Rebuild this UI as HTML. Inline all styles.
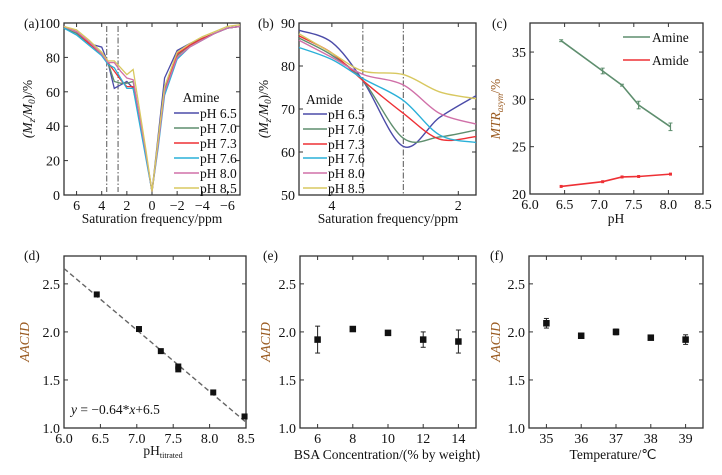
<!DOCTYPE html>
<html><head><meta charset="utf-8">
<style>
html,body{margin:0;padding:0;background:#fff;}
svg{display:block;font-family:"Liberation Serif",serif;}
</style></head>
<body>
<svg id="fig" width="722" height="475" viewBox="0 0 722 475" xmlns="http://www.w3.org/2000/svg"></svg>
<script>
// ---------- data ----------
const aX = [7,6,5,4,3.5,3,2.5,2,1.5,1,0.5,0,-0.5,-1,-2,-3,-4,-5,-6,-7];
const aPH = ["pH 6.5","pH 7.0","pH 7.3","pH 7.6","pH 8.0","pH 8.5"];
const aY65 = [97,94,88,86,77,62,64,66,62,45,25,2,35,68,84,88,91,94,97,98];
const aY70 = [97,94,88,82,77,66,65,65,66,44,24,2,32,62,81,87,91,94,97,98];
const aY73 = [98,95,88,82,77,72,67,63,63,44,24,2,30,60,82,87,91,94,97,98];
const aY76 = [97,93,87,81,76,74,68,62,62,42,22,2,28,58,79,86,90,94,97,98];
const aY80 = [98,95,89,82,77,77,72,68,67,46,25,2,30,60,80,86,90,94,97,98];
const aY85 = [98,96,90,83,78,78,74,70,73,50,27,2,33,63,83,88,92,95,98,99];

const bX = [4.52,4,3.5,2.87,2.3,1.72];
const bPH = ["pH 6.5","pH 7.0","pH 7.3","pH 7.6","pH 8.0","pH 8.5"];
const bY65 = [88.3,85.5,76.4,61.3,68,73.1];
const bY70 = [86.5,82.5,76.5,63.2,63.5,65.1];
const bY73 = [87,83,76.5,69,63,63.6];
const bY76 = [84.3,81.5,77,72,64,62.2];
const bY80 = [86,82,78,75.6,69,66.5];
const bY85 = [87.5,83,78.8,78,74,72.4];

const cPH = [6.45,7.05,7.33,7.57,8.03];
const cAmine = [36.2,33.0,31.5,29.4,27.1];
const cAmineErr = [0.1,0.3,0.1,0.4,0.4];
const cAmide = [20.8,21.3,21.8,21.85,22.1];

const dPH = [6.45,7.03,7.33,7.57,7.57,8.05,8.48];
const dAACID = [2.39,2.03,1.80,1.61,1.64,1.37,1.12];
const dSlope = -0.64, dIntercept = 6.5;

const eConc = [6,8,10,12,14];
const eAACID = [1.92,2.03,1.99,1.92,1.90];
const eErr = [0.14,0.02,0.02,0.08,0.12];

const fTemp = [35,36,37,38,39];
const fAACID = [2.09,1.96,2.00,1.94,1.92];
const fErr = [0.05,0.02,0.03,0.01,0.05];

const aXTicks = [6,4,2,0,-2,-4,-6];
const aXTickLabels = ["6","4","2","0","\u22122","\u22124","\u22126"];
const aYTicks = [0,20,40,60,80,100];
const bXTicks = [4,2];
const bYTicks = [50,60,70,80,90];
const cXTicks = [6.0,6.5,7.0,7.5,8.0,8.5];
const cYTicks = [20,25,30,35];
const dXTicks = [6.0,6.5,7.0,7.5,8.0,8.5];
const acidTicks = [1.0,1.5,2.0,2.5];
const eXTicks = [6,8,10,12,14];
const fXTicks = [35,36,37,38,39];

const colors = ["#4b4ba8","#5e8e6e","#ee3035","#2ab0d8","#d070a8","#d8c860"];
const brown = "#9a5a20";
// ---------- helpers ----------
const NS = "http://www.w3.org/2000/svg";
const svg = document.getElementById("fig");
function mk(tag, attrs, parent){
  const e = document.createElementNS(NS, tag);
  for (const k in attrs) e.setAttribute(k, attrs[k]);
  (parent||svg).appendChild(e);
  return e;
}
function txt(s, x, y, anchor, size, parent, extra){
  const t = mk("text", Object.assign({x:x, y:y, "text-anchor":anchor||"middle", "font-size":size||13, fill:"#111"}, extra||{}), parent);
  t.textContent = s;
  return t;
}
function scale(d0,d1,r0,r1){ return v => r0 + (v-d0)*(r1-r0)/(d1-d0); }
function smoothPath(pts){
  let d = "M"+pts[0][0]+","+pts[0][1];
  for (let i=0;i<pts.length-1;i++){
    const p0=pts[Math.max(0,i-1)], p1=pts[i], p2=pts[i+1], p3=pts[Math.min(pts.length-1,i+2)];
    const c1=[p1[0]+(p2[0]-p0[0])/6, p1[1]+(p2[1]-p0[1])/6];
    const c2=[p2[0]-(p3[0]-p1[0])/6, p2[1]-(p3[1]-p1[1])/6];
    d += " C"+c1[0]+","+c1[1]+" "+c2[0]+","+c2[1]+" "+p2[0]+","+p2[1];
  }
  return d;
}
function panel(name, L, T, R, B, xs, ys, xt, xtl, yt, ytl){
  const g = mk("g", {});
  
  
  const box = mk("rect", {x:L, y:T, width:R-L, height:B-T, fill:"none", stroke:"#333", "stroke-width":1.3}, g);
  
  
  const xa = mk("g", {}, g);
  
  
  xt.forEach((v,i)=>{
    const x = xs(v);
    mk("line",{x1:x,x2:x,y1:B,y2:B-4,stroke:"#333"},xa);
    mk("line",{x1:x,x2:x,y1:T,y2:T+4,stroke:"#333"},xa);
    const t = txt(xtl?xtl[i]:String(v), x, B+15, "middle", 14, xa);
    
    
  });
  const ya = mk("g", {}, g);
  
  
  yt.forEach((v,i)=>{
    const y = ys(v);
    mk("line",{x1:L,x2:L+4,y1:y,y2:y,stroke:"#333"},ya);
    mk("line",{x1:R,x2:R-4,y1:y,y2:y,stroke:"#333"},ya);
    const t = txt(ytl?ytl[i]:String(v), L-4, y+5, "end", 14, ya);
    
    
  });
  return g;
}
function vdash(g, x, T, B){
  mk("line",{x1:x,x2:x,y1:T,y2:B,stroke:"#555","stroke-width":1,"stroke-dasharray":"6,2,1.5,2"},g);
}
function legendLines(g, x0, x1, ys, labels){
  labels.forEach((lab,i)=>{
    const le = mk("g",{},g);
    
    
    mk("line",{x1:x0,x2:x1,y1:ys[i],y2:ys[i],stroke:colors[i],"stroke-width":1.6},le);
    txt(lab, x1+1, ys[i]+5, "start", 13.5, le);
  });
}
function sq(g, x, y, s){ mk("rect",{x:x-s/2,y:y-s/2,width:s,height:s,fill:"#111"},g); }
function errbar(g, x, y0, y1){
  mk("line",{x1:x,x2:x,y1:y0,y2:y1,stroke:"#222","stroke-width":1},g);
  mk("line",{x1:x-2.5,x2:x+2.5,y1:y0,y2:y0,stroke:"#222"},g);
  mk("line",{x1:x-2.5,x2:x+2.5,y1:y1,y2:y1,stroke:"#222"},g);
}
function yTitle(g, cx, cy, html, color){
  const t = mk("text",{x:0,y:0,transform:"translate("+cx+","+cy+") rotate(-90)","text-anchor":"middle","font-size":13.5,fill:color||"#111","font-style":"italic"},g);
  t.innerHTML = html;
  return t;
}

// ---------- (a) ----------
{
  const L=64,T=23,R=240,B=195;
  const xs=scale(7,-7,L,R), ys=scale(0,100,B,T);
  const g = panel("panel-a",L,T,R,B,xs,ys,aXTicks,aXTickLabels,aYTicks);
  vdash(g, xs(3.6), T+3, B-3);
  vdash(g, xs(2.7), T+3, B-3);
  [aY65,aY70,aY73,aY76,aY80,aY85].forEach((s,i)=>{
    const p = mk("polyline",{points:aX.map((x,j)=>xs(x)+","+ys(s[j])).join(" "),fill:"none",stroke:colors[i],"stroke-width":1.3},g);
    
    
  });
  txt("Amine", 201, 102, "middle", 13.5, g);
  legendLines(g, 174, 199, [113,128,143,158,173,188], aPH);
  txt("(a)", 24, 28, "start", 13.5, g);
  yTitle(g, 32, 109, '(<tspan>M</tspan><tspan font-size="9" dy="3">z</tspan><tspan dy="-3">/M</tspan><tspan font-size="9" dy="3">0</tspan><tspan dy="-3" font-style="normal">)/%</tspan>');
  txt("Saturation frequency/ppm", 152, 223, "middle", 13.5, g);
}
// ---------- (b) ----------
{
  const L=299,T=23,R=476,B=195;
  const xs=scale(4.52,1.72,L,R), ys=scale(50,90,B,T);
  const g = panel("panel-b",L,T,R,B,xs,ys,bXTicks,null,bYTicks);
  vdash(g, xs(3.51), T, B);
  vdash(g, xs(2.87), T, B);
  [bY65,bY70,bY73,bY76,bY80,bY85].forEach((s,i)=>{
    const p = mk("path",{d:smoothPath(bX.map((x,j)=>[xs(x),ys(s[j])])),fill:"none",stroke:colors[i],"stroke-width":1.4},g);
    
    
  });
  txt("Amide", 306, 104, "start", 13.5, g);
  legendLines(g, 303, 327, [114,129,144,158,173,188], bPH);
  txt("(b)", 258, 28, "start", 13.5, g);
  yTitle(g, 268, 109, '(<tspan>M</tspan><tspan font-size="9" dy="3">z</tspan><tspan dy="-3">/M</tspan><tspan font-size="9" dy="3">0</tspan><tspan dy="-3" font-style="normal">)/%</tspan>');
  txt("Saturation frequency/ppm", 388, 223, "middle", 13.5, g);
}
// ---------- (c) ----------
{
  const L=530,T=23,R=703,B=194;
  const xs=scale(6,8.5,L,R), ys=scale(20,38.07,B,T);
  const g = panel("panel-c",L,T,R,B,xs,ys,cXTicks,cXTicks.map(v=>v.toFixed(1)),cYTicks);
  const am = mk("polyline",{points:cPH.map((x,j)=>xs(x)+","+ys(cAmine[j])).join(" "),fill:"none",stroke:"#5e8e6e","stroke-width":1.6},g);
  
  
  cPH.forEach((x,j)=>{
    const e = mk("g",{},g);
    
    
    const y0=ys(cAmine[j]-cAmineErr[j]), y1=ys(cAmine[j]+cAmineErr[j]);
    mk("line",{x1:xs(x),x2:xs(x),y1:y0,y2:y1,stroke:"#5e8e6e","stroke-width":1.2},e);
    mk("line",{x1:xs(x)-2,x2:xs(x)+2,y1:y0,y2:y0,stroke:"#5e8e6e"},e);
    mk("line",{x1:xs(x)-2,x2:xs(x)+2,y1:y1,y2:y1,stroke:"#5e8e6e"},e);
  });
  const ad = mk("polyline",{points:cPH.map((x,j)=>xs(x)+","+ys(cAmide[j])).join(" "),fill:"none",stroke:"#ee3035","stroke-width":1.6},g);
  
  
  cPH.forEach((x,j)=>{ mk("rect",{x:xs(x)-1.5,y:ys(cAmide[j])-1.5,width:3,height:3,fill:"#ee3035"},g); });
  const l1 = mk("g",{},g);
  
  
  mk("line",{x1:623,x2:650,y1:37,y2:37,stroke:"#5e8e6e","stroke-width":1.6},l1);
  txt("Amine", 652, 42, "start", 13.5, l1);
  const l2 = mk("g",{},g);
  
  
  mk("line",{x1:623,x2:650,y1:60,y2:60,stroke:"#ee3035","stroke-width":1.6},l2);
  txt("Amide", 652, 65, "start", 13.5, l2);
  txt("(c)", 492, 28, "start", 13.5, g);
  yTitle(g, 500, 109, 'MTR<tspan font-size="9" dy="3">asym</tspan><tspan dy="-3" font-style="normal">/%</tspan>', brown);
  txt("pH", 616, 223, "middle", 13.5, g);
}
// ---------- (d) ----------
{
  const L=64,T=256,R=246,B=428;
  const xs=scale(6,8.5,L,R), ys=scale(1,2.79,B,T);
  const g = panel("panel-d",L,T,R,B,xs,ys,dXTicks,dXTicks.map(v=>v.toFixed(1)),acidTicks,acidTicks.map(v=>v.toFixed(1)));
  const fit = mk("line",{x1:xs(6),y1:ys(dSlope*6+dIntercept),x2:xs(8.5),y2:ys(dSlope*8.5+dIntercept),stroke:"#666","stroke-width":1.4,"stroke-dasharray":"5,3"},g);
  
  
  dPH.forEach((x,j)=>{ sq(g, xs(x), ys(dAACID[j]), 6); });
  const eq = mk("text",{x:71,y:414,"font-size":13.5,fill:"#111"},g);
  eq.innerHTML = '<tspan font-style="italic">y</tspan> = \u22120.64*<tspan font-style="italic">x</tspan>+6.5';
  
  
  txt("(d)", 24, 260, "start", 13.5, g);
  yTitle(g, 29, 342, 'AACID', brown);
  const xt = mk("text",{x:163,y:455,"text-anchor":"middle","font-size":13.5,fill:"#111"},g);
  xt.innerHTML = 'pH<tspan font-size="8" dy="3">titrated</tspan>';
}
// ---------- (e) ----------
{
  const L=300,T=256,R=476,B=428;
  const xs=scale(5,15,L,R), ys=scale(1,2.79,B,T);
  const g = panel("panel-e",L,T,R,B,xs,ys,eXTicks,null,acidTicks,acidTicks.map(v=>v.toFixed(1)));
  eConc.forEach((x,j)=>{
    errbar(g, xs(x), ys(eAACID[j]-eErr[j]), ys(eAACID[j]+eErr[j]));
    sq(g, xs(x), ys(eAACID[j]), 6.5);
  });
  txt("(e)", 263, 260, "start", 13.5, g);
  yTitle(g, 270, 342, 'AACID', brown);
  txt("BSA Concentration/(% by weight)", 387, 459, "middle", 13.5, g);
}
// ---------- (f) ----------
{
  const L=529,T=256,R=703,B=428;
  const xs=scale(34.5,39.5,L,R), ys=scale(1,2.79,B,T);
  const g = panel("panel-f",L,T,R,B,xs,ys,fXTicks,null,acidTicks,acidTicks.map(v=>v.toFixed(1)));
  fTemp.forEach((x,j)=>{
    errbar(g, xs(x), ys(fAACID[j]-fErr[j]), ys(fAACID[j]+fErr[j]));
    sq(g, xs(x), ys(fAACID[j]), 6.5);
  });
  txt("(f)", 490, 260, "start", 13.5, g);
  yTitle(g, 500, 342, 'AACID', brown);
  txt("Temperature/\u2103", 613, 459, "middle", 13.5, g);
}
</script>
</body></html>
